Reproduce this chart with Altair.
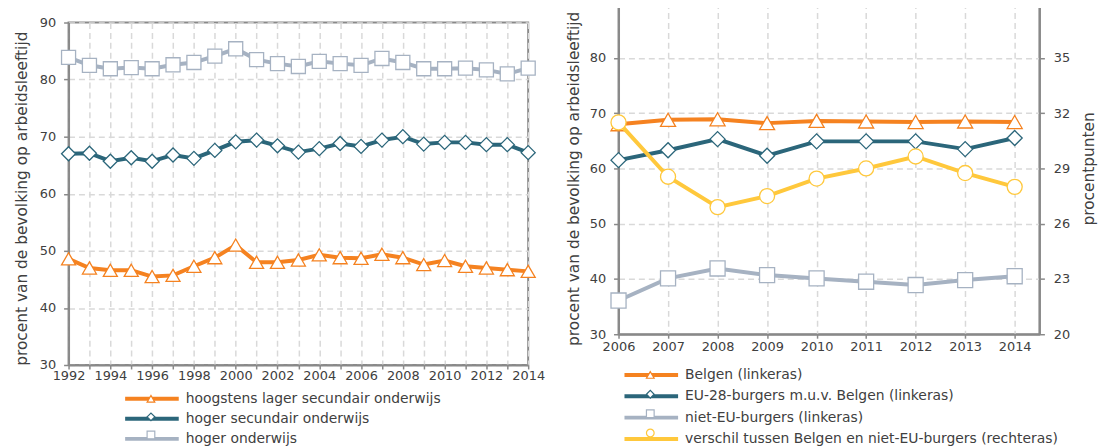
import altair as alt
import pandas as pd

# ---------------- data: left panel (education level) ----------------
years_left = list(range(1992, 2015))
series_left = [
    "hoogstens lager secundair onderwijs",
    "hoger secundair onderwijs",
    "hoger onderwijs",
]
laag = [48.6, 47.0, 46.6, 46.6, 45.5, 45.7, 47.3, 48.8, 51.0, 48.0, 48.0, 48.4,
        49.3, 48.8, 48.7, 49.4, 48.8, 47.6, 48.3, 47.3, 47.0, 46.7, 46.4]
secundair = [67.0, 67.1, 65.7, 66.3, 65.7, 66.8, 66.2, 67.6, 69.1, 69.4, 68.4, 67.3,
             67.9, 68.8, 68.3, 69.4, 70.0, 68.7, 69.0, 69.0, 68.6, 68.6, 67.2]
hoger = [83.9, 82.5, 81.9, 82.1, 81.9, 82.6, 83.0, 84.1, 85.4, 83.5, 82.8, 82.3,
         83.2, 82.8, 82.5, 83.7, 83.0, 81.9, 81.9, 82.0, 81.7, 81.0, 82.0]
left_ticks_y = [30, 40, 50, 60, 70, 80, 90]

# ---------------- data: right panel (nationality) ----------------
years_right = list(range(2006, 2015))
series_right = [
    "Belgen (linkeras)",
    "EU-28-burgers m.u.v. Belgen (linkeras)",
    "niet-EU-burgers (linkeras)",
    "verschil tussen Belgen en niet-EU-burgers (rechteras)",
]
belgen = [68.0, 68.8, 68.9, 68.2, 68.6, 68.5, 68.4, 68.5, 68.4]
eu28 = [61.5, 63.3, 65.3, 62.3, 64.9, 64.9, 64.9, 63.5, 65.5]
niet_eu = [36.1, 40.1, 41.9, 40.7, 40.1, 39.5, 38.9, 39.8, 40.5]
verschil = [31.5, 28.55, 26.9, 27.5, 28.45, 29.0, 29.65, 28.75, 28.0]
right_ticks_y = [20, 23, 26, 29, 32, 35, 38]

# ---------------- styling ----------------
colors_left = ["#F58220", "#2B667A", "#A6B2C2"]
shapes_left = ["triangle-up", "diamond", "square"]
colors_right = ["#F58220", "#2B667A", "#A6B2C2", "#FFC83C"]
shapes_right = ["triangle-up", "diamond", "square", "circle"]
FONT = "DejaVu Sans"
TXT = "#404040"
Y_TITLE = "procent van de bevolking op arbeidsleeftijd"

df_left = pd.DataFrame({
    "jaar": years_left * 3,
    "reeksL": sum([[s] * len(years_left) for s in series_left], []),
    "waarde": laag + secundair + hoger,
})
df_left["reeksLm"] = df_left["reeksL"]

df_rl = pd.DataFrame({
    "jaar": years_right * 3,
    "reeksR": sum([[s] * len(years_right) for s in series_right[:3]], []),
    "waarde": belgen + eu28 + niet_eu,
})
df_rl["reeksRm"] = df_rl["reeksR"]
df_rr = pd.DataFrame({
    "jaar": years_right,
    "reeksR": [series_right[3]] * len(years_right),
    "waarde": verschil,
})
df_rr["reeksRm"] = df_rr["reeksR"]


def line_legend(x, y, pad):
    return alt.Legend(title=None, orient="none", legendX=x, legendY=y,
                      symbolType="M-9,0H9", symbolSize=36, symbolStrokeWidth=4,
                      labelFont=FONT, labelFontSize=14, labelColor=TXT,
                      labelLimit=600, labelOffset=27, rowPadding=pad, padding=0)


def marker_legend(x, y, pad):
    return alt.Legend(title=None, orient="none", legendX=x, legendY=y,
                      symbolSize=60, symbolStrokeWidth=1.2, symbolFillColor="white",
                      labelExpr="' '", labelFont=FONT, labelFontSize=14,
                      rowPadding=pad, padding=0, zindex=1)


# ---------------- left panel ----------------
xL = alt.X("jaar:Q", scale=alt.Scale(domain=[1992, 2014], nice=False, zero=False),
           axis=alt.Axis(values=years_left, format="d", title=None,
                         labelExpr="datum.value % 2 == 0 ? datum.label : ''",
                         labelOverlap=False, labelFlush=False, tickSize=4, labelPadding=1))
yL = alt.Y("waarde:Q", scale=alt.Scale(domain=[30, 90], nice=False, zero=False),
           axis=alt.Axis(values=left_ticks_y, title=Y_TITLE, titleY=177,
                         tickSize=5, labelPadding=8, titlePadding=10))

lineL = alt.Chart(df_left).mark_line(strokeWidth=4).encode(
    x=xL, y=yL,
    color=alt.Color("reeksL:N", scale=alt.Scale(domain=series_left, range=colors_left),
                    legend=line_legend(77, 392, 4.2)),
)
ptsL = alt.Chart(df_left).mark_point(filled=False, fill="white", opacity=1,
                                     strokeWidth=1.3, size=200).encode(
    x=xL, y=yL,
    stroke=alt.Stroke("reeksLm:N", sort="descending", scale=alt.Scale(range=colors_left),
                      legend=marker_legend(76, 392, 4.2)),
    shape=alt.Shape("reeksLm:N", sort="descending", scale=alt.Scale(range=shapes_left),
                    legend=marker_legend(76, 392, 4.2)),
)
left_plot = alt.layer(lineL, ptsL).properties(width=463, height=345)

# empty band that lowers the left panel with respect to the right one
spacer = alt.Chart(pd.DataFrame({"a": [0]})).mark_point(opacity=0).encode(
    x=alt.X("a:Q", axis=None), y=alt.Y("a:Q", axis=None)
).properties(width=463, height=12, view=alt.ViewBackground(stroke="transparent"))

left = alt.vconcat(spacer, left_plot, spacing=0)

# ---------------- right panel ----------------
xR = alt.X("jaar:Q", scale=alt.Scale(domain=[2006, 2014.5], nice=False, zero=False),
           axis=alt.Axis(values=years_right, format="d", title=None,
                         labelOverlap=False, labelFlush=False, tickSize=4, labelPadding=2))
yRL = alt.Y("waarde:Q", scale=alt.Scale(domain=[30, 90], nice=False, zero=False),
            axis=alt.Axis(values=left_ticks_y, title=Y_TITLE, titleY=177,
                          tickSize=5, labelPadding=8, titlePadding=8))
yRR = alt.Y("waarde:Q", scale=alt.Scale(domain=[20, 38], nice=False, zero=False),
            axis=alt.Axis(values=right_ticks_y, orient="right", title="procentpunten",
                          titleAngle=270, grid=False, tickSize=5, labelPadding=9,
                          titlePadding=27))

colR = alt.Color("reeksR:N", scale=alt.Scale(domain=series_right, range=colors_right),
                 legend=line_legend(26, 368, 5.5))
strokeR = alt.Stroke("reeksRm:N", sort="ascending", scale=alt.Scale(range=colors_right),
                     legend=marker_legend(25, 368, 5.5))
shapeR = alt.Shape("reeksRm:N", sort="ascending", scale=alt.Scale(range=shapes_right),
                   legend=marker_legend(25, 368, 5.5))

lineRL = alt.Chart(df_rl).mark_line(strokeWidth=4).encode(x=xR, y=yRL, color=colR)
ptsRL = alt.Chart(df_rl).mark_point(filled=False, fill="white", opacity=1,
                                    strokeWidth=1.3, size=230).encode(
    x=xR, y=yRL, stroke=strokeR, shape=shapeR)
lineRR = alt.Chart(df_rr).mark_line(strokeWidth=4).encode(x=xR, y=yRR, color=colR)
ptsRR = alt.Chart(df_rr).mark_point(filled=False, fill="white", opacity=1,
                                    strokeWidth=1.3, size=230).encode(
    x=xR, y=yRR, stroke=strokeR, shape=shapeR)

right = alt.layer(alt.layer(lineRL, ptsRL), alt.layer(lineRR, ptsRR)).resolve_scale(
    y="independent").properties(width=424, height=334)

chart = alt.hconcat(left, right, spacing=19).resolve_scale(
    color="independent", stroke="independent", shape="independent"
).properties(
    padding={"left": 5, "top": -14, "right": 0, "bottom": 0}
).configure_view(
    stroke="#898989", strokeWidth=2
).configure_axis(
    domainColor="#898989", domainWidth=2, tickColor="#898989", tickWidth=1.5,
    gridColor="#D9D9D9", gridDash=[6, 4], gridWidth=1.5,
    labelFont=FONT, labelFontSize=13, labelColor=TXT,
    titleFont=FONT, titleFontSize=15.5, titleFontWeight="normal", titleColor=TXT,
)

chart.save("out.html", embed_options={"renderer": "svg", "actions": False})
